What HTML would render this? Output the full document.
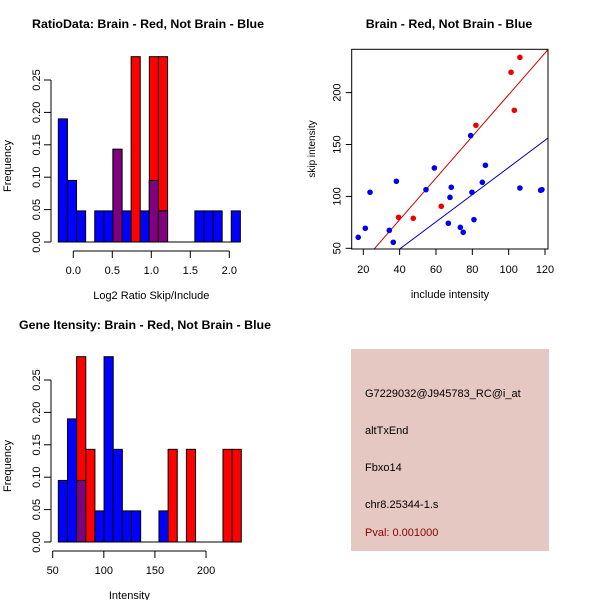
<!DOCTYPE html>
<html><head><meta charset="utf-8"><style>
body{margin:0;background:#fff}
svg{display:block;font-family:"Liberation Sans",sans-serif}
</style></head><body>
<svg id="c" width="600" height="600" viewBox="0 0 600 600"></svg>
<script>
// ---- Ratio histogram data ----
const ratioBinStart = -0.192;
const ratioBinWidth = 0.1167;
const ratioBlue = [0.19,0.095,0.048,0,0.048,0.048,0.143,0.048,0,0.048,0.095,0.048,0,0,0,0.048,0.048,0.048,0,0.048];
const ratioRed  = [0,0,0,0,0,0,0.143,0,0.286,0,0.286,0.286,0,0,0,0,0,0,0,0];
const ratioXTicks = [0,0.5,1,1.5,2];
const ratioXLabels = ["0.0","0.5","1.0","1.5","2.0"];
const freqTicks = [0,0.05,0.1,0.15,0.2,0.25];
const freqLabels = ["0.00","0.05","0.10","0.15","0.20","0.25"];
// ---- Intensity histogram data ----
const intBinStart = 55.5;
const intBinWidth = 8.95;
const intBlue = [0.095,0.19,0.095,0,0.048,0.286,0.143,0.048,0.048,0,0,0.048,0,0,0,0,0,0,0,0];
const intRed  = [0,0,0.286,0.143,0,0,0,0,0,0,0,0,0.143,0,0.143,0,0,0,0.143,0.143];
const intXTicks = [50,100,150,200];
const intXLabels = ["50","100","150","200"];
// ---- Scatter data ----
const redX = [39.4,47.5,62.9,82,101.3,103.1,106.2];
const redY = [79.9,78.9,90.5,168.5,219.6,183,234];
const blueX = [17.2,21.1,23.7,34.3,36.5,38.2,54.5,59.1,66.8,67.7,68.4,73.4,75,79.1,79.8,80.9,85.5,87.2,106.2,117.6,118.3];
const blueY = [60.6,69.3,104,67.3,55.8,114.6,106.5,127.4,74.1,99.1,108.8,70.2,65.4,158.6,104,77.6,113.6,130,108.1,105.9,106.5];
const redFit = [-2.8,2.008];
const blueFit = [-3.1,1.31];
const scXTicks = [20,40,60,80,100,120];
const scYTicks = [50,100,150,200];

const NS="http://www.w3.org/2000/svg";
const svg=document.getElementById('c');
function mk(tag,attrs,parent){const e=document.createElementNS(NS,tag);for(const k in attrs)e.setAttribute(k,attrs[k]);(parent||svg).appendChild(e);return e;}
function txt(s,x,y,opts,parent){const t=mk('text',Object.assign({x:x,y:y,'font-size':11,'text-anchor':'middle'},opts||{}),parent);t.textContent=s;return t;}

function hist(g,x0,baseY,fy,fx,start,w,blue,red,xt,xl,title,xtitle,titleX,axisY,yTop){
  const n=Math.max(blue.length,red.length);
  for(let i=0;i<n;i++){
    const a=start+i*w,b=a+w;const bx=fx(a),bw=fx(b)-fx(a);
    const bv=blue[i]||0,rv=red[i]||0;
    if(bv>0){const r=mk('rect',{x:bx,y:fy(bv),width:bw,height:baseY-fy(bv),fill:'#0000ff',stroke:'#000','stroke-width':1},g);
      }
    if(rv>0){const r=mk('rect',{x:bx,y:fy(rv),width:bw,height:baseY-fy(rv),fill:'#ff0000',stroke:'#000','stroke-width':1},g);
      }
    const m=Math.min(bv,rv);
    if(m>0){const r=mk('rect',{x:bx,y:fy(m),width:bw,height:baseY-fy(m),fill:'#800080',stroke:'#000','stroke-width':1},g);
      }
  }
  mk('line',{x1:fx(start),x2:fx(start+n*w),y1:baseY,y2:baseY,stroke:'#000'},g);
  const ya=mk('g',{},g);
  mk('line',{x1:x0,x2:x0,y1:fy(0),y2:fy(freqTicks[freqTicks.length-1]),stroke:'#000'},ya);
  freqTicks.forEach((v,i)=>{const y=fy(v);mk('line',{x1:x0-7,x2:x0,y1:y,y2:y,stroke:'#000'},ya);
    txt(freqLabels[i],0,0,{transform:`translate(${x0-11},${y}) rotate(-90)`},ya);});
  const yt=txt('Frequency',0,0,{transform:`translate(${x0-40},${(fy(0)+fy(0.25))/2+5}) rotate(-90)`},g);
  
  const xa=mk('g',{},g);
  mk('line',{x1:fx(xt[0]),x2:fx(xt[xt.length-1]),y1:axisY,y2:axisY,stroke:'#000'},xa);
  xt.forEach((v,i)=>{mk('line',{x1:fx(v),x2:fx(v),y1:axisY,y2:axisY+7,stroke:'#000'},xa);txt(xl[i],fx(v),axisY+23,{},xa);});
  const xtt=txt(xtitle,(fx(xt[0])+fx(xt[xt.length-1]))/2,axisY+48,{},g);
  
  const tt=txt(title,titleX,yTop,{'font-weight':'bold','font-size':12.4},g);
  
}
const g1=mk('g',{});
hist(g1,51,242,v=>242-v*648,v=>73.3+v*78,ratioBinStart,ratioBinWidth,ratioBlue,ratioRed,ratioXTicks,ratioXLabels,
 'RatioData: Brain - Red, Not Brain - Blue','Log2 Ratio Skip/Include',148,251,28);
const g3=mk('g',{});
hist(g3,51,542,v=>542-v*648,v=>52.7+(v-50)*1.0222,intBinStart,intBinWidth,intBlue,intRed,intXTicks,intXLabels,
 'Gene Itensity: Brain - Red, Not Brain - Blue','Intensity',145,551,329);
const g2=mk('g',{});
const sx=v=>363.3+(v-20)*1.817, sy=v=>248.3-(v-50)*1.0378;
const L=351.7,R=548,T=49.3,B=249;
mk('defs',{},g2).innerHTML='<clipPath id="cp"><rect x="'+L+'" y="'+T+'" width="'+(R-L)+'" height="'+(B-T)+'"/></clipPath>';
const fitLine=(f,col,name)=>{const x1=0,x2=140;const l=mk('line',{x1:sx(x1),y1:sy(f[0]+f[1]*x1),x2:sx(x2),y2:sy(f[0]+f[1]*x2),stroke:col,'clip-path':'url(#cp)'},g2);
 };
fitLine(redFit,'#d00000','red-fit-line');fitLine(blueFit,'#0000c0','blue-fit-line');
blueX.forEach((x,i)=>{const c=mk('circle',{cx:sx(x),cy:sy(blueY[i]),r:2.8,fill:'#0000ee'},g2);
 });
redX.forEach((x,i)=>{const c=mk('circle',{cx:sx(x),cy:sy(redY[i]),r:2.8,fill:'#ee0000'},g2);
 });
mk('rect',{x:L,y:T,width:R-L,height:B-T,fill:'none',stroke:'#000'},g2);
scXTicks.forEach(v=>{mk('line',{x1:sx(v),x2:sx(v),y1:B,y2:B+6,stroke:'#000'},g2);txt(String(v),sx(v),B+24,{},g2);});
scYTicks.forEach(v=>{mk('line',{x1:L-6,x2:L,y1:sy(v),y2:sy(v),stroke:'#000'},g2);txt(String(v),0,0,{transform:`translate(${L-11},${sy(v)}) rotate(-90)`},g2);});
let t=txt('include intensity',450,298,{},g2);
t=txt('skip intensity',0,0,{transform:'translate(315,149) rotate(-90)','font-size':10},g2);
t=txt('Brain - Red, Not Brain - Blue',449,28,{'font-weight':'bold','font-size':12.4},g2);
const g4=mk('g',{});
mk('rect',{x:351,y:349,width:198,height:202,fill:'#e5c8c1'},g4);
[['G7229032@J945783_RC@i_at',397,'#000','probe-id'],['altTxEnd',434,'#000','event-type'],['Fbxo14',471,'#000','gene-name'],['chr8.25344-1.s',508,'#000','location'],['Pval: 0.001000',536,'#8b0000','p-value']].forEach(a=>{
 const e=txt(a[0],365,a[1],{'text-anchor':'start',fill:a[2],'font-size':11},g4);});
</script>
</body></html>
